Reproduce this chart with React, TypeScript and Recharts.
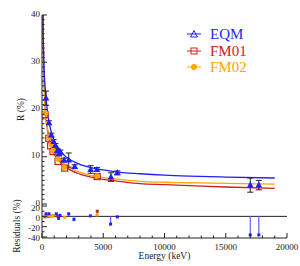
import { ComposedChart, ErrorBar, Legend, Line, ReferenceLine, Scatter, XAxis, YAxis } from "recharts"

const SERIF = "Liberation Serif, Times New Roman, DejaVu Serif, serif"
const BLUE = "#1f1fff"
const RED = "#cc2020"
const ORANGE = "#ffa500"
const INK = "#222"

// tick values
const xTicks = [0, 1000, 2000, 3000, 4000, 5000, 6000, 7000, 8000, 9000, 10000, 11000, 12000, 13000, 14000, 15000, 16000, 17000, 18000, 19000, 20000]
const xMajor = [0, 5000, 10000, 15000, 20000]
const rTicks = [0, 1, 2, 3, 4, 5, 6, 7, 8, 9, 10, 11, 12, 13, 14, 15, 16, 17, 18, 19, 20, 21, 22, 23, 24, 25, 26, 27, 28, 29, 30, 31, 32, 33, 34, 35, 36, 37, 38, 39, 40]
const rMajor = [0, 10, 20, 30, 40]
const resTicks = [-40, -30, -20, -10, 0, 10, 20]
const resMajor = [-40, -20, 0, 20]

// measured points
const eqmE = [330, 570, 760, 950, 1090, 1250, 1400, 1500, 1800, 2180, 2670, 3970, 4490, 5630, 6150, 17000, 17700]
const eqmR = [22.4, 17.2, 14.6, 13.2, 12.4, 11.3, 10.6, 11.0, 9.3, 9.3, 7.9, 7.3, 7.3, 5.7, 6.6, 4.0, 4.0]
const eqmErr = [1.5, 0.4, 0.4, 0.4, 0.4, 0.4, 0.4, 0.4, 0.4, 1.5, 0.4, 0.8, 0.4, 0.9, 0.4, 1.5, 1.0]
const fm01E = [245, 550, 700, 900, 1310, 1850, 4510]
const fm01R = [18.9, 13.9, 12.3, 11.1, 9.0, 7.6, 5.8]
const fm02E = [270, 570, 760, 900, 1310, 1800, 4490]
const fm02R = [19.2, 14.1, 12.6, 11.3, 9.5, 7.8, 5.9]

// fitted curves
const fitE = [60, 100, 150, 200, 300, 500, 750, 1000, 1500, 2000, 3000, 4000, 5000, 6000, 8000, 10000, 12000, 15000, 19000]
const eqmFit = [45, 36, 30, 27, 23.3, 18.5, 15.3, 13.4, 11.2, 9.9, 8.5, 7.7, 7.2, 6.8, 6.4, 6.1, 5.9, 5.7, 5.5]
const fm01Fit = [45, 36, 28, 24, 19, 14.8, 12, 10.5, 8.8, 7.7, 6.4, 5.7, 5.2, 4.9, 4.3, 4.1, 3.9, 3.6, 3.3]
const fm02Fit = [45, 36, 28, 24, 19.5, 15.2, 12.5, 11, 9.2, 8.1, 6.8, 6.0, 5.6, 5.3, 4.8, 4.6, 4.5, 4.35, 4.2]

// residuals (%)
const eqmResE = [330, 570, 1170, 1360, 1470, 2180, 2610, 3950, 5600, 6150, 17000, 17700]
const eqmRes = [5, 5, 5, -4, 2, 5, -6, 1, -15, -1, -36, -36]
const fm01ResE = [245, 550, 900, 1310, 4510]
const fm01Res = [-1, 0, 1, 0, 10]
const fm02ResE = [270, 570, 760, 900, 1850, 4490]
const fm02Res = [1, 1, 0, 1, -2, 3]

const pts = (es: number[], rs: number[], errs?: number[]) => es.map((e, i) => ({ e, r: rs[i], err: errs ? errs[i] : 0 }))
const curve = (ys: number[]) => fitE.map((e, i) => ({ e, r: ys[i] }))
const stems = (es: number[], rs: number[]) => es.map((e, i) => ({ e, r: rs[i], stem: rs[i] > 0 ? [rs[i], 0] : [0, -rs[i]] }))

function AxisTick(props: any) {
  const { x, y, payload, side, majors, showLabel, dy = 3 } = props
  const v = payload.value
  const major = majors.includes(v)
  const len = major ? 5 : 2.5
  let tick = null
  if (side === "left") tick = <line x1={x} y1={y} x2={x + len} y2={y} stroke={INK} />
  if (side === "right") tick = <line x1={x} y1={y} x2={x - len} y2={y} stroke={INK} />
  if (side === "bottom") tick = <line x1={x} y1={y} x2={x} y2={y - len} stroke={INK} />
  if (side === "top") tick = <line x1={x} y1={y} x2={x} y2={y + len} stroke={INK} />
  let label = null
  if (showLabel && major) {
    if (side === "left")
      label = <text x={x - 2} y={y + dy} textAnchor="end" fontSize={9} fontFamily={SERIF} fill={INK}>{v}</text>
    if (side === "bottom")
      label = <text x={x} y={y + 12} textAnchor="middle" fontSize={9} fontFamily={SERIF} fill={INK}>{v}</text>
  }
  return <g>{tick}{label}</g>
}

const tickFor = (side: string, majors: number[], showLabel: boolean, dy?: number) => (p: any) =>
  <AxisTick {...p} side={side} majors={majors} showLabel={showLabel} dy={dy} />

function VLabel(props: any) {
  const { viewBox, text, dx, dy } = props
  const cx = viewBox.x + dx
  const cy = viewBox.y + viewBox.height / 2 + dy
  return (
    <text x={cx} y={cy} transform={`rotate(-90 ${cx} ${cy})`} textAnchor="middle" dominantBaseline="central" fontSize={9.5} fontFamily={SERIF} fill={INK}>
      {text}
    </text>
  )
}

const Tri = (p: any) => <polygon points={`${p.cx},${p.cy - 3.6} ${p.cx - 3.4},${p.cy + 2.4} ${p.cx + 3.4},${p.cy + 2.4}`} fill={BLUE} />
const Sq = (p: any) => <rect x={p.cx - 3} y={p.cy - 3} width={6} height={6} fill="none" stroke={RED} strokeWidth={1.2} />
const Dot = (p: any) => <circle cx={p.cx} cy={p.cy} r={2.8} fill={ORANGE} />
const small = (color: string) => (p: any) => <rect x={p.cx - 1.5} y={p.cy - 1.5} width={3} height={3} fill={color} />

function LegendBox() {
  const rows = [
    { name: "EQM", color: BLUE, mark: <polygon points="8,1.5 4.5,8 11.5,8" fill="none" stroke={BLUE} /> },
    { name: "FM01", color: RED, mark: <rect x={5} y={2} width={6} height={6} fill="none" stroke={RED} /> },
    { name: "FM02", color: ORANGE, mark: <circle cx={8} cy={5} r={3} fill={ORANGE} /> },
  ]
  return (
    <div style={{ fontFamily: SERIF, fontSize: 15, lineHeight: "16.5px" }}>
      {rows.map((r) => (
        <div key={r.name} style={{ display: "flex", alignItems: "center", color: r.color }}>
          <svg width={16} height={10} style={{ marginRight: 8 }}>
            <line x1={1} y1={5} x2={15} y2={5} stroke={r.color} />
            {r.mark}
          </svg>
          {r.name}
        </div>
      ))}
    </div>
  )
}

export default function App() {
  const frame = { stroke: INK }
  return (
    <div style={{ position: "absolute", left: 0, top: 0, width: 300, height: 266, background: "#fff" }}>
      <div style={{ position: "absolute", left: 0, top: 0 }}>
        <ComposedChart width={300} height={266} margin={{ top: 204, right: 13, bottom: 0, left: 0 }}>
          <XAxis xAxisId="b" type="number" dataKey="e" domain={[0, 20000]} ticks={xTicks} interval={0} allowDataOverflow height={28}
            tickSize={0} tickMargin={0} tickLine={false} axisLine={frame} tick={tickFor("bottom", xMajor, true)}
            label={{ value: "Energy (keV)", position: "insideBottom", offset: 7, fontSize: 9.5, fontFamily: SERIF, fill: INK }} />
          <XAxis xAxisId="t" type="number" dataKey="e" orientation="top" domain={[0, 20000]} ticks={xTicks} interval={0} allowDataOverflow height={0}
            tickSize={0} tickMargin={0} tickLine={false} axisLine={frame} tick={tickFor("top", xMajor, false)} />
          <YAxis yAxisId="l" type="number" domain={[-42, 24]} ticks={resTicks} interval={0} allowDataOverflow width={42}
            tickSize={0} tickMargin={0} tickLine={false} axisLine={frame} tick={tickFor("left", resMajor, true, 4.5)}
            label={<VLabel text="Residuals (%)" dx={17} dy={5} />} />
          <YAxis yAxisId="r" orientation="right" type="number" domain={[-42, 24]} ticks={resTicks} interval={0} allowDataOverflow width={0}
            tickSize={0} tickMargin={0} tickLine={false} axisLine={frame} tick={tickFor("right", resMajor, false)} />
          <ReferenceLine xAxisId="b" yAxisId="l" y={0} stroke={INK} />
          <Scatter xAxisId="b" yAxisId="l" data={stems(fm01ResE, fm01Res)} dataKey="r" shape={small(RED)} isAnimationActive={false}>
            <ErrorBar dataKey="stem" direction="y" width={0} stroke={RED} strokeWidth={1} />
          </Scatter>
          <Scatter xAxisId="b" yAxisId="l" data={stems(fm02ResE, fm02Res)} dataKey="r" shape={small(ORANGE)} isAnimationActive={false}>
            <ErrorBar dataKey="stem" direction="y" width={0} stroke={ORANGE} strokeWidth={1} />
          </Scatter>
          <Scatter xAxisId="b" yAxisId="l" data={stems(eqmResE, eqmRes)} dataKey="r" shape={small(BLUE)} isAnimationActive={false}>
            <ErrorBar dataKey="stem" direction="y" width={0} stroke="#6060ff" strokeWidth={1.2} />
          </Scatter>
        </ComposedChart>
      </div>
      <div style={{ position: "absolute", left: 0, top: 0 }}>
        <ComposedChart width={300} height={212} margin={{ top: 15, right: 13, bottom: 8, left: 0 }}>
          <XAxis xAxisId="b" type="number" dataKey="e" domain={[0, 20000]} ticks={xTicks} interval={0} allowDataOverflow height={0}
            tickSize={0} tickMargin={0} tickLine={false} axisLine={frame} tick={tickFor("bottom", xMajor, false)} />
          <XAxis xAxisId="t" type="number" dataKey="e" orientation="top" domain={[0, 20000]} ticks={xTicks} interval={0} allowDataOverflow height={0}
            tickSize={0} tickMargin={0} tickLine={false} axisLine={frame} tick={tickFor("top", xMajor, false)} />
          <YAxis yAxisId="l" type="number" domain={[0, 40]} ticks={rTicks} interval={0} allowDataOverflow width={42}
            tickSize={0} tickMargin={0} tickLine={false} axisLine={frame} tick={tickFor("left", rMajor, true, 1.5)}
            label={<VLabel text="R (%)" dx={21} dy={0} />} />
          <YAxis yAxisId="r" orientation="right" type="number" domain={[0, 40]} ticks={rTicks} interval={0} allowDataOverflow width={0}
            tickSize={0} tickMargin={0} tickLine={false} axisLine={frame} tick={tickFor("right", rMajor, false)} />
          <Line xAxisId="b" yAxisId="l" data={curve(fm01Fit)} dataKey="r" type="monotone" stroke={RED} strokeWidth={1.3} dot={false} isAnimationActive={false} />
          <Line xAxisId="b" yAxisId="l" data={curve(fm02Fit)} dataKey="r" type="monotone" stroke={ORANGE} strokeWidth={1.3} dot={false} isAnimationActive={false} />
          <Line xAxisId="b" yAxisId="l" data={curve(eqmFit)} dataKey="r" type="monotone" stroke={BLUE} strokeWidth={1.3} dot={false} isAnimationActive={false} />
          <Scatter xAxisId="b" yAxisId="l" data={pts(fm01E, fm01R)} dataKey="r" shape={Sq} isAnimationActive={false} />
          <Scatter xAxisId="b" yAxisId="l" data={pts(fm02E, fm02R)} dataKey="r" shape={Dot} isAnimationActive={false} />
          <Scatter xAxisId="b" yAxisId="l" data={pts(eqmE, eqmR, eqmErr)} dataKey="r" shape={Tri} isAnimationActive={false}>
            <ErrorBar dataKey="err" direction="y" width={3} stroke={INK} strokeWidth={1} />
          </Scatter>
          <Legend layout="horizontal" verticalAlign="middle" align="center" content={<LegendBox />}
            wrapperStyle={{ left: 186, top: 26, width: 90 }} />
        </ComposedChart>
      </div>
    </div>
  )
}
